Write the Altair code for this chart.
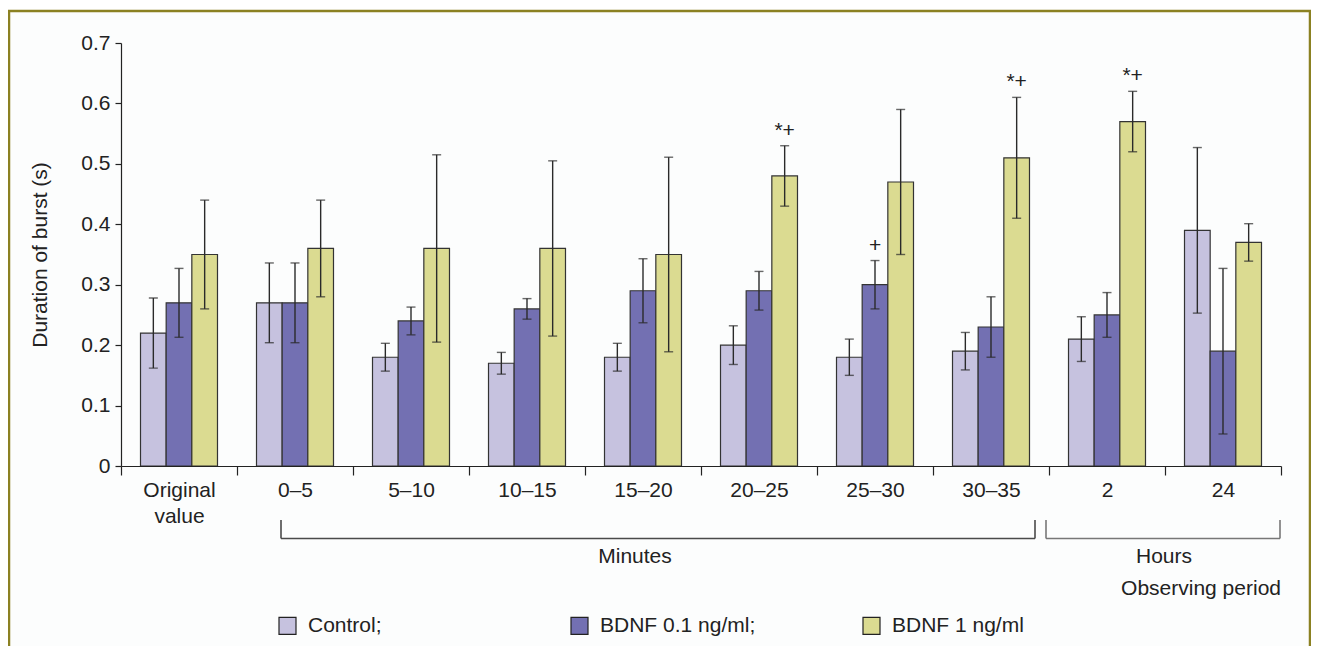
import altair as alt
import pandas as pd

# ---------------- data ----------------
periods = ["Original value", "0–5", "5–10", "10–15", "15–20", "20–25",
           "25–30", "30–35", "2", "24"]
series = ["Control;", "BDNF 0.1 ng/ml;", "BDNF 1 ng/ml"]

control_mean = [0.22, 0.27, 0.18, 0.17, 0.18, 0.20, 0.18, 0.19, 0.21, 0.39]
control_err = [0.058, 0.066, 0.023, 0.018, 0.023, 0.032, 0.030, 0.031, 0.037, 0.137]

bdnf01_mean = [0.27, 0.27, 0.24, 0.26, 0.29, 0.29, 0.30, 0.23, 0.25, 0.19]
bdnf01_err = [0.057, 0.066, 0.023, 0.017, 0.053, 0.032, 0.040, 0.050, 0.037, 0.137]

bdnf1_mean = [0.35, 0.36, 0.36, 0.36, 0.35, 0.48, 0.47, 0.51, 0.57, 0.37]
bdnf1_err = [0.090, 0.080, 0.155, 0.145, 0.161, 0.050, 0.120, 0.100, 0.050, 0.031]

annot_period = ["20–25", "25–30", "30–35", "2"]
annot_series = ["BDNF 1 ng/ml", "BDNF 0.1 ng/ml;", "BDNF 1 ng/ml", "BDNF 1 ng/ml"]
annot_text = ["*+", "+", "*+", "*+"]

y_ticks = [0, 0.1, 0.2, 0.3, 0.4, 0.5, 0.6, 0.7]

# ---------------- styles ----------------
FONT = "Liberation Sans"
TXT = "#222222"
bar_colors = ["#c6c2df", "#7370b2", "#dbdb91"]
frame_color = "#8b8122"

rows = []
for s, means, errs in zip(series, [control_mean, bdnf01_mean, bdnf1_mean],
                          [control_err, bdnf01_err, bdnf1_err]):
    for p, m, e in zip(periods, means, errs):
        rows.append({"period": p, "series": s, "mean": m,
                     "low": round(m - e, 4), "high": round(m + e, 4)})
df = pd.DataFrame(rows)

ann = pd.DataFrame({"period": annot_period, "series": annot_series, "label": annot_text})
ann = ann.merge(df[["period", "series", "high"]], on=["period", "series"])

xscale = alt.Scale(paddingInner=0, paddingOuter=0)
x_plain = alt.X("period:N", sort=periods, scale=xscale)
xoff = alt.XOffset("series:N", sort=series,
                   scale=alt.Scale(domain=series, paddingInner=0, paddingOuter=0.76))
yscale = alt.Scale(domain=[0, 0.7], nice=False)
YT = "Duration of burst (s)"

base = alt.Chart(df)

frame = alt.Chart(alt.Data(values=[{}])).mark_rect(
    fill="#fcfdfd", stroke=frame_color, strokeWidth=2.5
).encode(x=alt.value(-112), x2=alt.value(1189), y=alt.value(-32), y2=alt.value(700))

bars = base.mark_bar(stroke="#333333", strokeWidth=1.2).encode(
    x=alt.X("period:N", sort=periods, scale=xscale,
            axis=alt.Axis(title=None, labelAngle=0, tickBand="extent", zindex=2,
                          labelExpr="datum.value == 'Original value' ? ['Original', 'value'] : datum.value",
                          labelFont=FONT, labelFontSize=21, labelColor=TXT,
                          labelLineHeight=26, labelBaseline="top",
                          labelPadding=4, tickSize=9, tickColor=TXT,
                          domainColor=TXT, tickWidth=1.2, domainWidth=1.2)),
    xOffset=xoff,
    y=alt.Y("mean:Q", scale=yscale,
            axis=alt.Axis(title=YT, values=y_ticks, zindex=2,
                          labelExpr="datum.value == 0 ? '0' : format(datum.value, '.1f')",
                          labelFont=FONT, labelFontSize=21, labelColor=TXT,
                          labelPadding=5, tickSize=6, tickColor=TXT,
                          domainColor=TXT, tickWidth=1.2, domainWidth=1.2,
                          titleFont=FONT, titleFontSize=21, titleColor=TXT,
                          titleFontWeight="normal", titlePadding=30, grid=False)),
    color=alt.Color("series:N", sort=series,
                    scale=alt.Scale(domain=series, range=bar_colors),
                    legend=alt.Legend(title=None, orient="none", legendX=156, legendY=572,
                                      direction="horizontal", symbolType="square",
                                      symbolSize=289, symbolStrokeColor="#222222",
                                      symbolStrokeWidth=1.2, labelFont=FONT,
                                      labelFontSize=21, labelColor=TXT, labelOffset=10,
                                      columnPadding=104, gridAlign="all", labelLimit=400,
                                      zindex=2)),
)

rules = base.mark_rule(color="#2a2a2a", strokeWidth=1.4).encode(
    x=x_plain, xOffset=xoff,
    y=alt.Y("low:Q", scale=yscale, title=YT), y2="high:Q")

cap_lo = base.mark_tick(color="#2a2a2a", thickness=1.4, size=9).encode(
    x=x_plain, xOffset=xoff, y=alt.Y("low:Q", scale=yscale, title=YT))
cap_hi = base.mark_tick(color="#2a2a2a", thickness=1.4, size=9).encode(
    x=x_plain, xOffset=xoff, y=alt.Y("high:Q", scale=yscale, title=YT))

stars = alt.Chart(ann).mark_text(font=FONT, fontSize=21, color=TXT, baseline="middle",
                                 dy=-15).encode(
    x=x_plain, xOffset=xoff,
    y=alt.Y("high:Q", scale=yscale, title=YT), text="label:N")

one = alt.Data(values=[{}])

def seg(x1, x2, y1, y2, color):
    return alt.Chart(one).mark_rule(color=color, strokeWidth=1.6).encode(
        x=alt.value(x1), x2=alt.value(x2), y=alt.value(y1), y2=alt.value(y2))

def label(txt, x, y, align="center"):
    return alt.Chart(one).mark_text(text=txt, font=FONT, fontSize=21, color=TXT,
                                    align=align, baseline="middle").encode(
        x=alt.value(x), y=alt.value(y))

brackets = [
    seg(160, 914, 495.5, 495.5, "#4a4a4a"),
    seg(160, 160, 477, 495.5, "#4a4a4a"),
    seg(914, 914, 477, 495.5, "#4a4a4a"),
    seg(925, 1159, 495.5, 495.5, "#777777"),
    seg(925, 925, 477, 495.5, "#777777"),
    seg(1159, 1159, 477, 495.5, "#777777"),
    label("Minutes", 514, 514),
    label("Hours", 1043, 514),
    label("Observing period", 1160, 546, align="right"),
]

chart = alt.layer(frame, bars, rules, cap_lo, cap_hi, stars, *brackets).properties(
    width=1160, height=423,
    autosize=alt.AutoSizeParams(type="none"),
    padding={"left": 113, "top": 35, "right": 30, "bottom": 180},
    background="white",
).configure_view(stroke=None)

chart.save("out.html", embed_options={"renderer": "svg", "actions": False})
